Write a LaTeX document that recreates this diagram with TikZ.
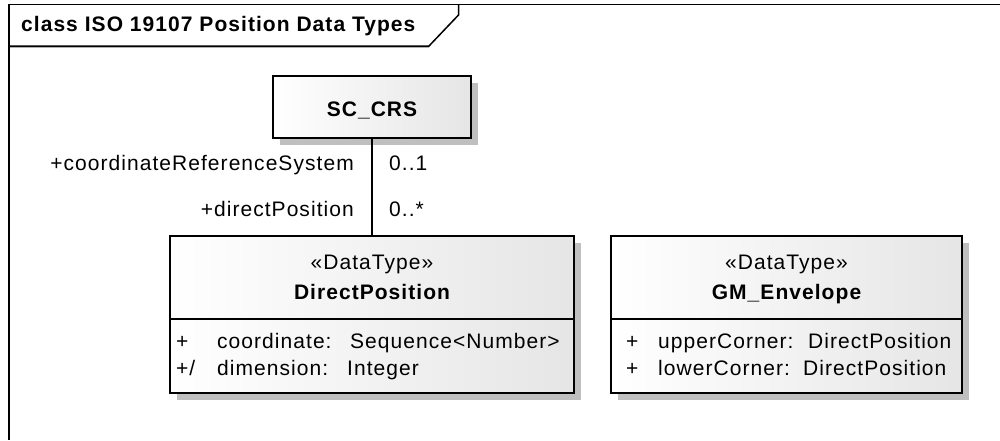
\documentclass[tikz,border=0pt]{standalone}
\usepackage{fontspec}
\usetikzlibrary{shadows}
\newfontfamily\umlfont[LetterSpace=5]{Liberation Sans}
\newcommand\umlsize{\fontsize{21}{25}\selectfont}
\begin{document}
\begin{tikzpicture}[x=1pt,y=-1pt,
  txt/.style={inner sep=0pt, font=\umlfont\umlsize},
  boldtxt/.style={txt, font=\umlfont\bfseries\umlsize},
  classbox/.style={draw=black, line width=2pt, left color=white, right color=black!10,
    inner sep=0pt, drop shadow={shadow xshift=6.5pt, shadow yshift=-6.5pt, fill=black!25, opacity=1}},
  frameline/.style={draw=black, line width=1.5pt},
  sepline/.style={draw=black, line width=2pt},
  assoc/.style={draw=black, line width=1.5pt}]
\useasboundingbox (0,0) rectangle (1000,440);
\fill[white] (0,0) rectangle (1000,440);

% diagram frame with its name tab
\draw[black!30, line width=1pt] (9,47.8) -- (429,47.8);
\draw[frameline] (1000,4.5) -- (9,4.5) -- (9,440);
\draw[frameline] (458.5,4.5) -- (458.5,15) -- (429,46) -- (9,46);
\node[boldtxt, anchor=base west] (title) at (21,31.7) {class ISO 19107 Position Data Types};

% classes
\node[classbox, minimum width=198, minimum height=62] (crs) at (372,107) {};
\node[classbox, minimum width=404, minimum height=157] (dp) at (372,314.5) {};
\node[classbox, minimum width=351, minimum height=157] (env) at (786.5,314.5) {};

\draw[sepline] (dp.west |- 0,319) -- (dp.east |- 0,319);
\draw[sepline] (env.west |- 0,319) -- (env.east |- 0,319);

\node[boldtxt, anchor=base] (crsname) at (372,116.5) {SC\_CRS};

\node[txt, anchor=base] (dpst) at (372,269) {«DataType»};
\node[boldtxt, anchor=base] (dpname) at (372,299.5) {DirectPosition};
\node[txt, anchor=base west] (dpa1v) at (176,348) {+};
\node[txt, anchor=base west] (dpa1) at (217,348) {coordinate:};
\node[txt, anchor=base west] (dpa1t) at (350,348) {Sequence<Number>};
\node[txt, anchor=base west] (dpa2v) at (176,375) {+/};
\node[txt, anchor=base west] (dpa2) at (217,375) {dimension:};
\node[txt, anchor=base west] (dpa2t) at (347,375) {Integer};

\node[txt, anchor=base] (envst) at (786.5,269) {«DataType»};
\node[boldtxt, anchor=base] (envname) at (786.5,299) {GM\_Envelope};
\node[txt, anchor=base west] (enva1v) at (626,348) {+};
\node[txt, anchor=base west] (enva1) at (658,348) {upperCorner:};
\node[txt, anchor=base west] (enva1t) at (808,348) {DirectPosition};
\node[txt, anchor=base west] (enva2v) at (626,375) {+};
\node[txt, anchor=base west] (enva2) at (658,375) {lowerCorner:};
\node[txt, anchor=base west] (enva2t) at (803,375) {DirectPosition};

% association between SC_CRS and DirectPosition
\draw[assoc] (crs.south) -- (dp.north);
\node[txt, anchor=base east] (role1) at (354,170) {+coordinateReferenceSystem};
\node[txt, anchor=base west] (mult1) at (389,170) {0..1};
\node[txt, anchor=base east] (role2) at (354,216.7) {+directPosition};
\node[txt, anchor=base west] (mult2) at (389,216.7) {0..*};
\end{tikzpicture}
\end{document}
